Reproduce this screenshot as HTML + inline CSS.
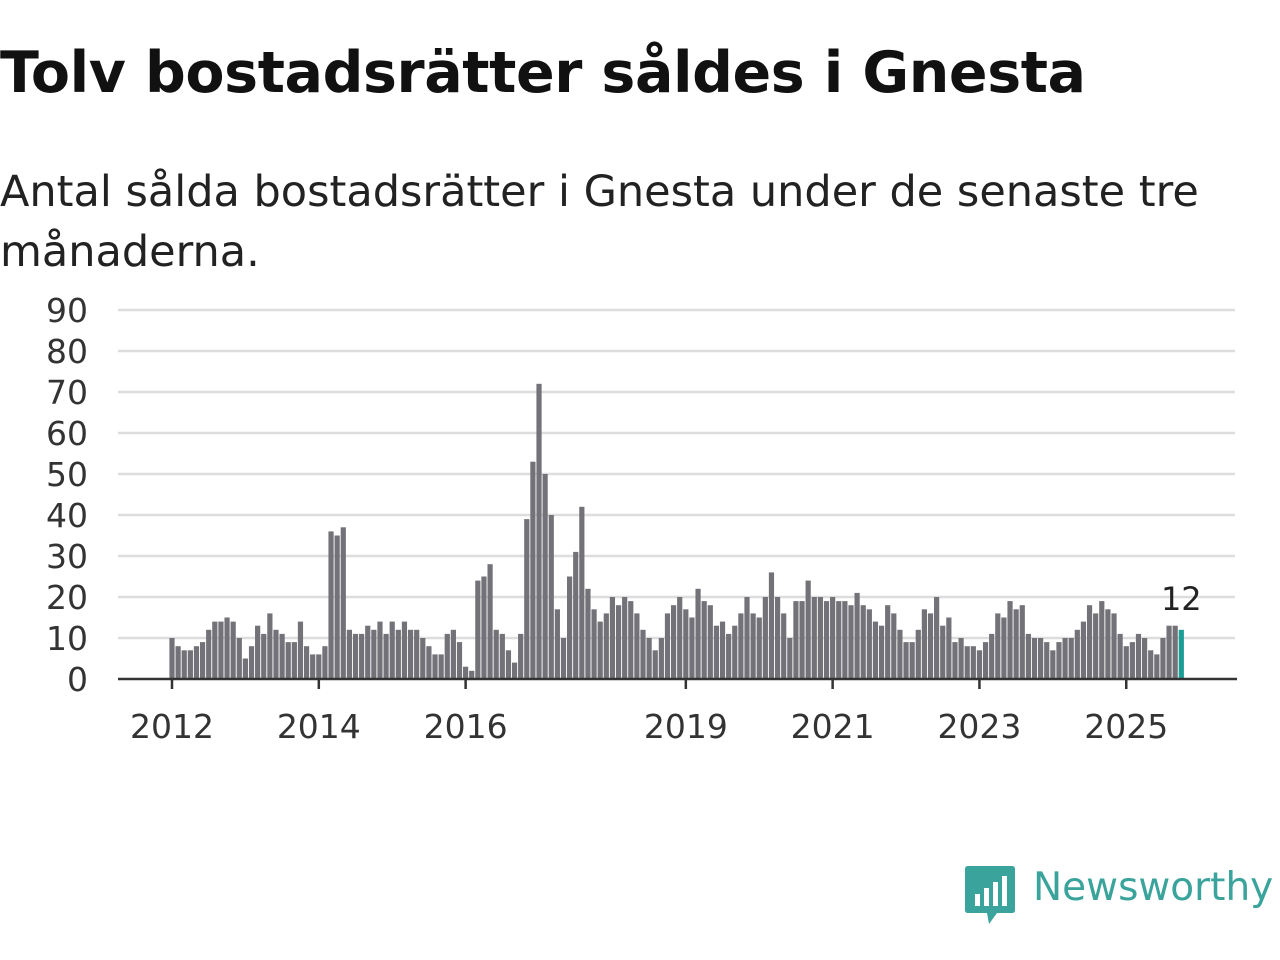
<!DOCTYPE html>
<html><head><meta charset="utf-8"><style>
body{margin:0;width:1280px;height:960px;background:#fff;font-family:"DejaVu Sans","Liberation Sans",sans-serif;overflow:hidden;position:relative}
h1{position:absolute;left:0;top:40px;margin:0;font-size:57px;font-weight:bold;color:#111;letter-spacing:-0.4px;font-family:"DejaVu Sans","Liberation Sans",sans-serif}
.sub{position:absolute;left:0;top:162px;margin:0;font-size:43px;line-height:60px;color:#222;width:1240px}
svg{position:absolute;left:0;top:0}
</style></head><body>
<h1>Tolv bostadsrätter såldes i Gnesta</h1>
<p class="sub">Antal sålda bostadsrätter i Gnesta under de senaste tre månaderna.</p>
<svg id="chart" width="1280" height="960"></svg>
<div style="position:absolute;left:965px;top:866px;">
<svg width="52" height="60" style="position:static"><path d="M0 3 Q0 0 3 0 L47 0 Q50 0 50 3 L50 44 Q50 47 47 47 L32 47 L24 58 L22 47 L3 47 Q0 47 0 44Z" fill="#3aa39b"/><rect x="10" y="28" width="5" height="12" fill="#fff"/><rect x="19" y="22" width="5" height="18" fill="#fff"/><rect x="28" y="16" width="5" height="24" fill="#fff"/><rect x="37" y="10" width="5" height="30" fill="#fff"/></svg>
<span style="position:absolute;left:68px;top:-1px;font-size:39px;color:#3aa39b;white-space:nowrap">Newsworthy</span>
</div>
<script>
const values=[10,8,7,7,8,9,12,14,14,15,14,10,5,8,13,11,16,12,11,9,9,14,8,6,6,8,36,35,37,12,11,11,13,12,14,11,14,12,14,12,12,10,8,6,6,11,12,9,3,2,24,25,28,12,11,7,4,11,39,53,72,50,40,17,10,25,31,42,22,17,14,16,20,18,20,19,16,12,10,7,10,16,18,20,17,15,22,19,18,13,14,11,13,16,20,16,15,20,26,20,16,10,19,19,24,20,20,19,20,19,19,18,21,18,17,14,13,18,16,12,9,9,12,17,16,20,13,15,9,10,8,8,7,9,11,16,15,19,17,18,11,10,10,9,7,9,10,10,12,14,18,16,19,17,16,11,8,9,11,10,7,6,10,13,13,12];
const yTicks=[0,10,20,30,40,50,60,70,80,90];
const xTickYears=[2012,2014,2016,2019,2021,2023,2025];
const startYear=2012;
const svg=document.getElementById('chart');
const NS='http://www.w3.org/2000/svg';
const x0=172,step=6.117,y0=679,yk=4.1;
const X=i=>x0+i*step, Y=v=>y0-v*yk;
function mk(t,a){const e=document.createElementNS(NS,t);for(const k in a)e.setAttribute(k,a[k]);svg.appendChild(e);return e;}
yTicks.forEach(t=>{
 if(t>0){const g=mk('line',{x1:118,x2:1235,y1:Y(t),y2:Y(t),stroke:'#ddd','stroke-width':2.5});
 
 }
 const l=mk('text',{x:88,y:Y(t)+12,'text-anchor':'end','font-size':33,fill:'#333','font-family':'DejaVu Sans, Liberation Sans, sans-serif'});
 l.textContent=t;
 
 
});
values.forEach((v,i)=>{
 const last=i===values.length-1;
 const r=mk('rect',{x:X(i)-2.6,y:Y(v),width:5.2,height:v*yk,fill:last?'#1a9e96':'#737278'});
 
 
});
const ax=mk('line',{x1:118,x2:1237,y1:y0,y2:y0,stroke:'#333','stroke-width':2.5});


xTickYears.forEach(yr=>{
 const xx=X((yr-startYear)*12);
 const tk=mk('line',{x1:xx,x2:xx,y1:y0,y2:y0+10,stroke:'#333','stroke-width':2.5});
 
 
 const l=mk('text',{x:xx,y:738,'text-anchor':'middle','font-size':33,fill:'#333','font-family':'DejaVu Sans, Liberation Sans, sans-serif'});
 l.textContent=yr;
 
 
});
const li=values.length-1;
const vl=mk('text',{x:X(li),y:Y(values[li])-20,'text-anchor':'middle','font-size':32,fill:'#222','font-family':'DejaVu Sans, Liberation Sans, sans-serif'});
vl.textContent=values[li];


</script>
</body></html>
